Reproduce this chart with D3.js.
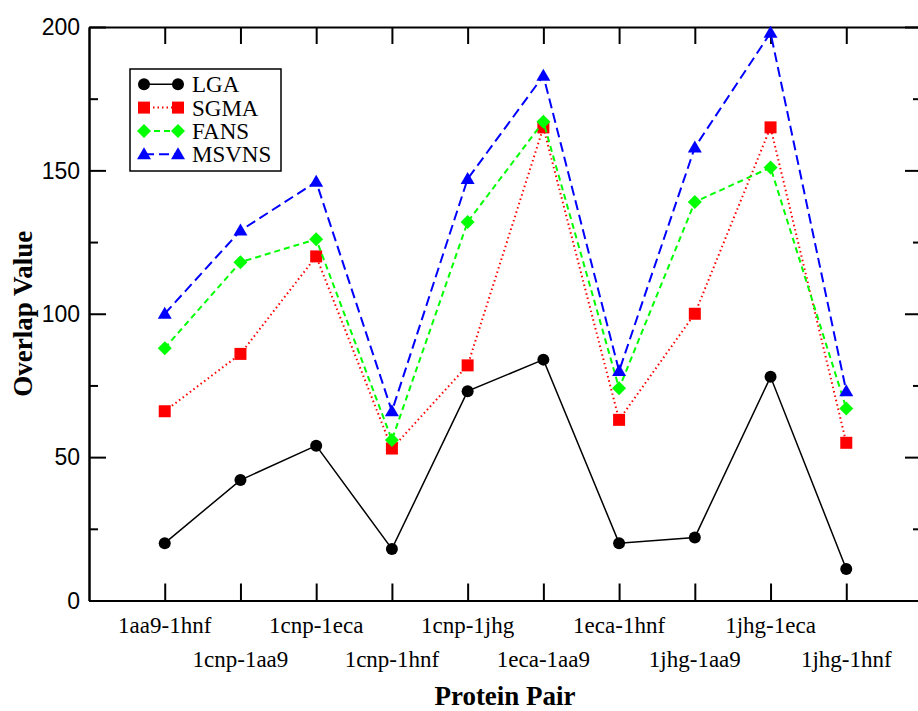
<!DOCTYPE html>
<html lang="en">
<head>
<meta charset="UTF-8">
<script src="https://d3js.org/d3.v7.min.js"></script>
<style>
  body { margin: 0; background: #fff; }
  svg { display: block; font-family: "Liberation Serif", "DejaVu Serif", serif; }
  .axis path, .axis line { stroke: #000; stroke-width: 2px; }
  .tick text { font-size: 23px; fill: #000; }
</style>
</head>
<body>
<script>
// data
const pairs = ["1aa9-1hnf", "1cnp-1aa9", "1cnp-1eca", "1cnp-1hnf", "1cnp-1jhg",
               "1eca-1aa9", "1eca-1hnf", "1jhg-1aa9", "1jhg-1eca", "1jhg-1hnf"];
const lga   = [20, 42, 54, 18, 73, 84, 20, 22, 78, 11];
const sgma  = [66, 86, 120, 53, 82, 165, 63, 100, 165, 55];
const fans  = [88, 118, 126, 56, 132, 167, 74, 139, 151, 67];
const msvns = [100, 129, 146, 66, 147, 183, 80, 158, 198, 73];
const yTicks = [0, 50, 100, 150, 200];
const yMinor = [25, 75, 125, 175];

const series = [
  { name: "LGA",   values: lga,   color: "#000000", dash: null,    sym: "circle" },
  { name: "SGMA",  values: sgma,  color: "#ff0000", dash: "1.5,3", sym: "square" },
  { name: "FANS",  values: fans,  color: "#00ff00", dash: "6,4",   sym: "diamond" },
  { name: "MSVNS", values: msvns, color: "#0000ff", dash: "10,5",  sym: "triangle" }
];

const W = 918, H = 711;
const svg = d3.select("body").append("svg").attr("width", W).attr("height", H);

const x = d3.scaleLinear().domain([0, pairs.length + 1]).range([89, 922]);
const y = d3.scaleLinear().domain([0, 200]).range([600.5, 27]);
const xIdx = d3.range(1, pairs.length + 1);

// axes (ticks point inward)
svg.append("g").attr("class", "axis").attr("transform", `translate(0,${y(0)})`)
  .call(d3.axisBottom(x).tickValues(xIdx).tickSize(-17).tickSizeOuter(0).tickFormat(""));
svg.append("g").attr("class", "axis").attr("transform", `translate(0,${y(200)})`)
  .call(d3.axisTop(x).tickValues(xIdx).tickSize(-17).tickSizeOuter(0).tickFormat(""));
svg.append("g").attr("class", "axis").attr("transform", `translate(${x(0)},0)`)
  .call(d3.axisLeft(y).tickValues(yTicks).tickSize(-17).tickSizeOuter(0).tickPadding(9));
svg.append("g").attr("class", "axis").attr("transform", `translate(${x(0)},0)`)
  .call(d3.axisLeft(y).tickValues(yMinor).tickSize(-9).tickSizeOuter(0).tickFormat(""));
svg.append("g").attr("class", "axis").attr("transform", `translate(${x(11)},0)`)
  .call(d3.axisRight(y).tickValues(yTicks).tickSize(-17).tickSizeOuter(0).tickFormat(""));
svg.append("g").attr("class", "axis").attr("transform", `translate(${x(11)},0)`)
  .call(d3.axisRight(y).tickValues(yMinor).tickSize(-9).tickSizeOuter(0).tickFormat(""));
svg.selectAll(".axis .tick text").attr("dy", "0.34em");

// staggered category labels
svg.selectAll(".xlab")
  .data(pairs)
  .enter().append("text")
  .attr("class", "xlab")
  .attr("x", (d, i) => x(i + 1))
  .attr("y", (d, i) => i % 2 === 0 ? 633 : 667)
  .attr("text-anchor", "middle")
  .style("font-size", "23px")
  .text(d => d);

// axis titles
svg.append("text")
  .attr("x", 505).attr("y", 705)
  .attr("text-anchor", "middle")
  .style("font-size", "27px").style("font-weight", "bold")
  .text("Protein Pair");
svg.append("text")
  .attr("transform", `translate(32,${(y(0) + y(200)) / 2}) rotate(-90)`)
  .attr("text-anchor", "middle")
  .style("font-size", "27px").style("font-weight", "bold")
  .text("Overlap Value");

function marker(g, s) {
  if (s.sym === "circle") return g.append("circle").attr("r", 6);
  if (s.sym === "square") return g.append("rect").attr("x", -6).attr("y", -6).attr("width", 12).attr("height", 12);
  if (s.sym === "diamond") return g.append("path").attr("d", "M0,-7L7,0L0,7L-7,0Z");
  return g.append("path").attr("d", "M0,-7L7,5L-7,5Z");
}

const line = d3.line().x((d, i) => x(i + 1)).y(d => y(d));

series.forEach(s => {
  svg.append("path")
    .datum(s.values)
    .attr("fill", "none")
    .attr("stroke", s.color)
    .attr("stroke-width", s.dash ? 2 : 1.5)
    .attr("stroke-dasharray", s.dash)
    .attr("d", line);
  s.values.forEach((v, i) => {
    const g = svg.append("g").attr("transform", `translate(${x(i + 1)},${y(v)})`);
    marker(g, s).attr("fill", s.color);
  });
});

// legend
const lg = svg.append("g");
lg.append("rect")
  .attr("x", 130).attr("y", 69).attr("width", 151).attr("height", 102)
  .attr("fill", "#fff").attr("stroke", "#000").attr("stroke-width", 1.5);
series.forEach((s, i) => {
  const cy = 84.3 + i * 23.3;
  lg.append("line")
    .attr("x1", 144).attr("x2", 178).attr("y1", cy).attr("y2", cy)
    .attr("stroke", s.color).attr("stroke-width", s.dash ? 2 : 1.5)
    .attr("stroke-dasharray", s.dash);
  [144, 178].forEach(px => {
    const g = lg.append("g").attr("transform", `translate(${px},${cy})`);
    marker(g, s).attr("fill", s.color);
  });
  lg.append("text")
    .attr("x", 192).attr("y", cy + 8)
    .style("font-size", "23px")
    .text(s.name);
});
</script>
</body>
</html>
